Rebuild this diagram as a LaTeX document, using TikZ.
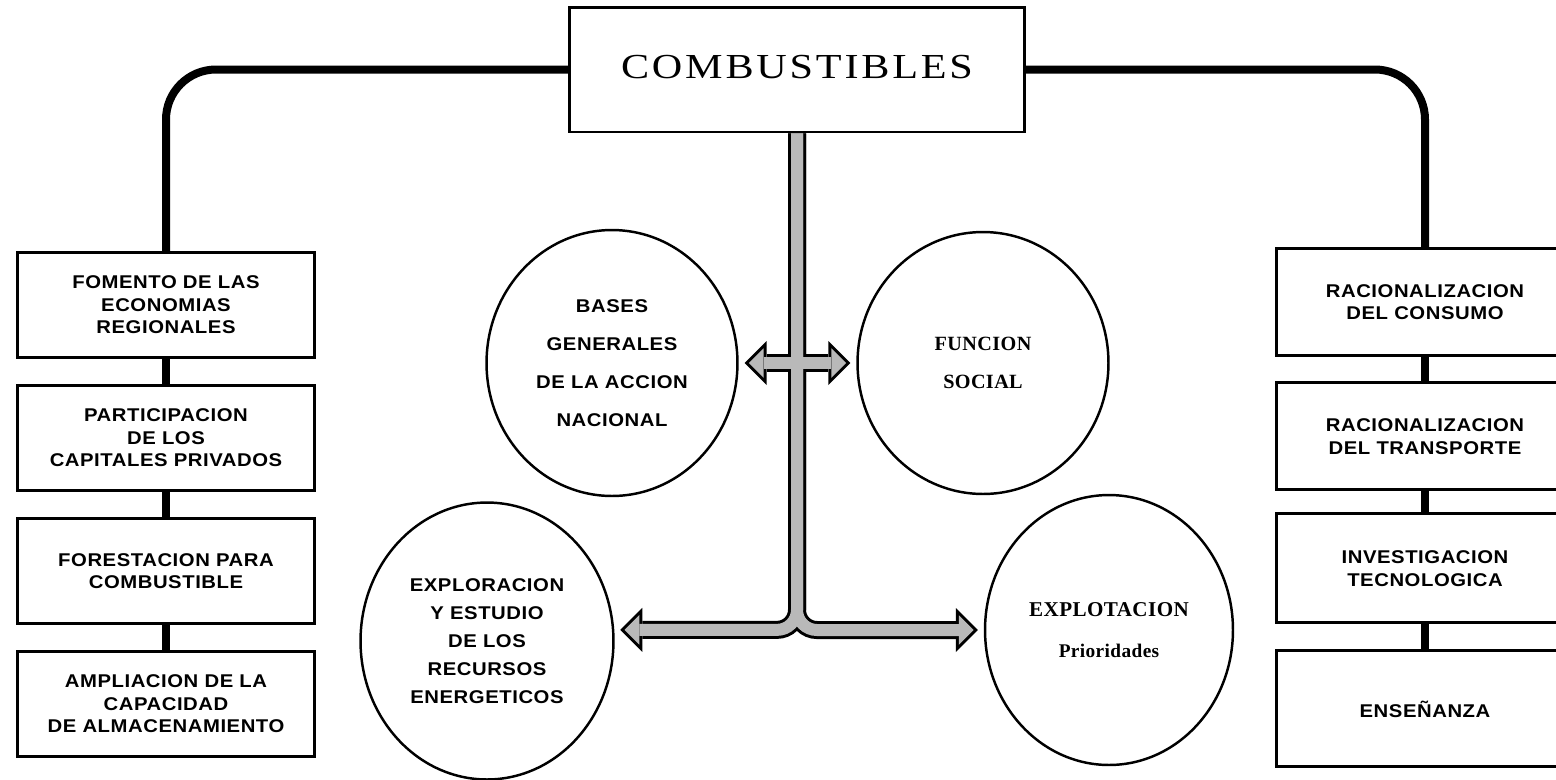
\documentclass[tikz,border=0pt]{standalone}
\usepackage{fontspec}
\usetikzlibrary{positioning, arrows.meta, shapes.geometric}
\newfontfamily\titulo[FakeStretch=1.2, LetterSpace=8]{Liberation Serif}
\newfontfamily\palo[FakeStretch=1.1, LetterSpace=3]{Liberation Sans}
\newfontfamily\serifa[LetterSpace=2]{Liberation Serif}
\tikzset{
  caja/.style={draw, line width=1.7pt, minimum width=5.96cm, align=center,
    font=\fontsize{10.5}{12.8}\selectfont\palo\bfseries},
  circulo/.style={draw, ellipse, line width=1.4pt, align=center, inner sep=0pt},
  linea/.style={line width=0.16cm, rounded corners=1cm},
  punta/.tip={Triangle[length=0.44cm, width=0.88cm, line width=0pt]},
  puntab/.tip={Triangle[length=0.295cm, width=0.59cm, line width=0pt]},
  borde/.style={line width=0.36cm, black, rounded corners=0.4cm},
  relleno/.style={line width=0.24cm, gray!55, rounded corners=0.4cm}
}

\begin{document}
\begin{tikzpicture}[x=0.02cm, y=-0.02cm]
  \useasboundingbox (0,0) rectangle (1556,779);

  \node[draw, line width=1.7pt, minimum width=9.1cm, minimum height=2.5cm,
    font=\fontsize{20}{24}\selectfont\titulo] (c) at (797,69.5) {\raisebox{3.4pt}{COMBUSTIBLES}};

  % columna izquierda
  \node[caja, minimum height=2.1cm] (l1) at (166,305) {FOMENTO DE LAS\\ECONOMIAS\\REGIONALES};
  \node[caja, minimum height=2.1cm, below=0.5cm of l1] (l2) {PARTICIPACION\\DE LOS\\CAPITALES PRIVADOS};
  \node[caja, minimum height=2.1cm, below=0.5cm of l2] (l3) {FORESTACION PARA\\COMBUSTIBLE};
  \node[caja, minimum height=2.1cm, below=0.5cm of l3] (l4) {AMPLIACION DE LA\\CAPACIDAD\\DE ALMACENAMIENTO};

  % columna derecha
  \node[caja, minimum height=2.14cm] (r1) at (1425,302) {RACIONALIZACION\\DEL CONSUMO};
  \node[caja, minimum height=2.14cm, below=0.49cm of r1] (r2) {RACIONALIZACION\\DEL TRANSPORTE};
  \node[caja, minimum height=2.18cm, below=0.42cm of r2] (r3) {INVESTIGACION\\TECNOLOGICA};
  \node[caja, minimum height=2.32cm, below=0.5cm of r3] (r4) {ENSEÑANZA};

  % circulos
  \node[circulo, minimum width=5.02cm, minimum height=5.32cm,
    font=\fontsize{10.5}{21.5}\selectfont\palo\bfseries] (bases) at (612,363)
    {BASES\\GENERALES\\DE LA ACCION\\NACIONAL};
  \node[circulo, minimum width=5.02cm, minimum height=5.24cm,
    font=\fontsize{11.5}{21.5}\selectfont\serifa\bfseries] (funcion) at (983,363)
    {FUNCION\\SOCIAL};
  \node[circulo, minimum width=5.06cm, minimum height=5.54cm,
    font=\fontsize{10.5}{16}\selectfont\palo\bfseries] (explor) at (487,641)
    {EXPLORACION\\Y ESTUDIO\\DE LOS\\RECURSOS\\ENERGETICOS};
  \node[circulo, minimum width=4.96cm, minimum height=5.4cm,
    font=\fontsize{12}{23}\selectfont\serifa\bfseries] (explot) at (1109,630)
    {EXPLOTACION\\{\fontsize{11}{23}\selectfont Prioridades}};

  % lineas
  \draw[linea] (c.west) -| (l1.north);
  \draw[linea] (c.east) -| (r1.north);
  \draw[linea] (l1) -- (l2);
  \draw[linea] (l2) -- (l3);
  \draw[linea] (l3) -- (l4);
  \draw[linea] (r1) -- (r2);
  \draw[linea] (r2) -- (r3);
  \draw[linea] (r3) -- (r4);

  % flecha gruesa
  \draw[borde, -punta, shorten >=0.12cm] (c.south) |- (explor.5);
  \draw[borde, -punta, shorten >=0.12cm] (c.south) |- (explot.west);
  \draw[borde, punta-punta, shorten <=0.12cm, shorten >=0.12cm] (bases) -- (funcion);
  \draw[relleno, -puntab, shorten >=0.205cm] (c.south) |- (explor.5);
  \draw[relleno, -puntab, shorten >=0.205cm] (c.south) |- (explot.west);
  \draw[relleno, puntab-puntab, shorten <=0.205cm, shorten >=0.205cm] (bases) -- (funcion);
\end{tikzpicture}
\end{document}
